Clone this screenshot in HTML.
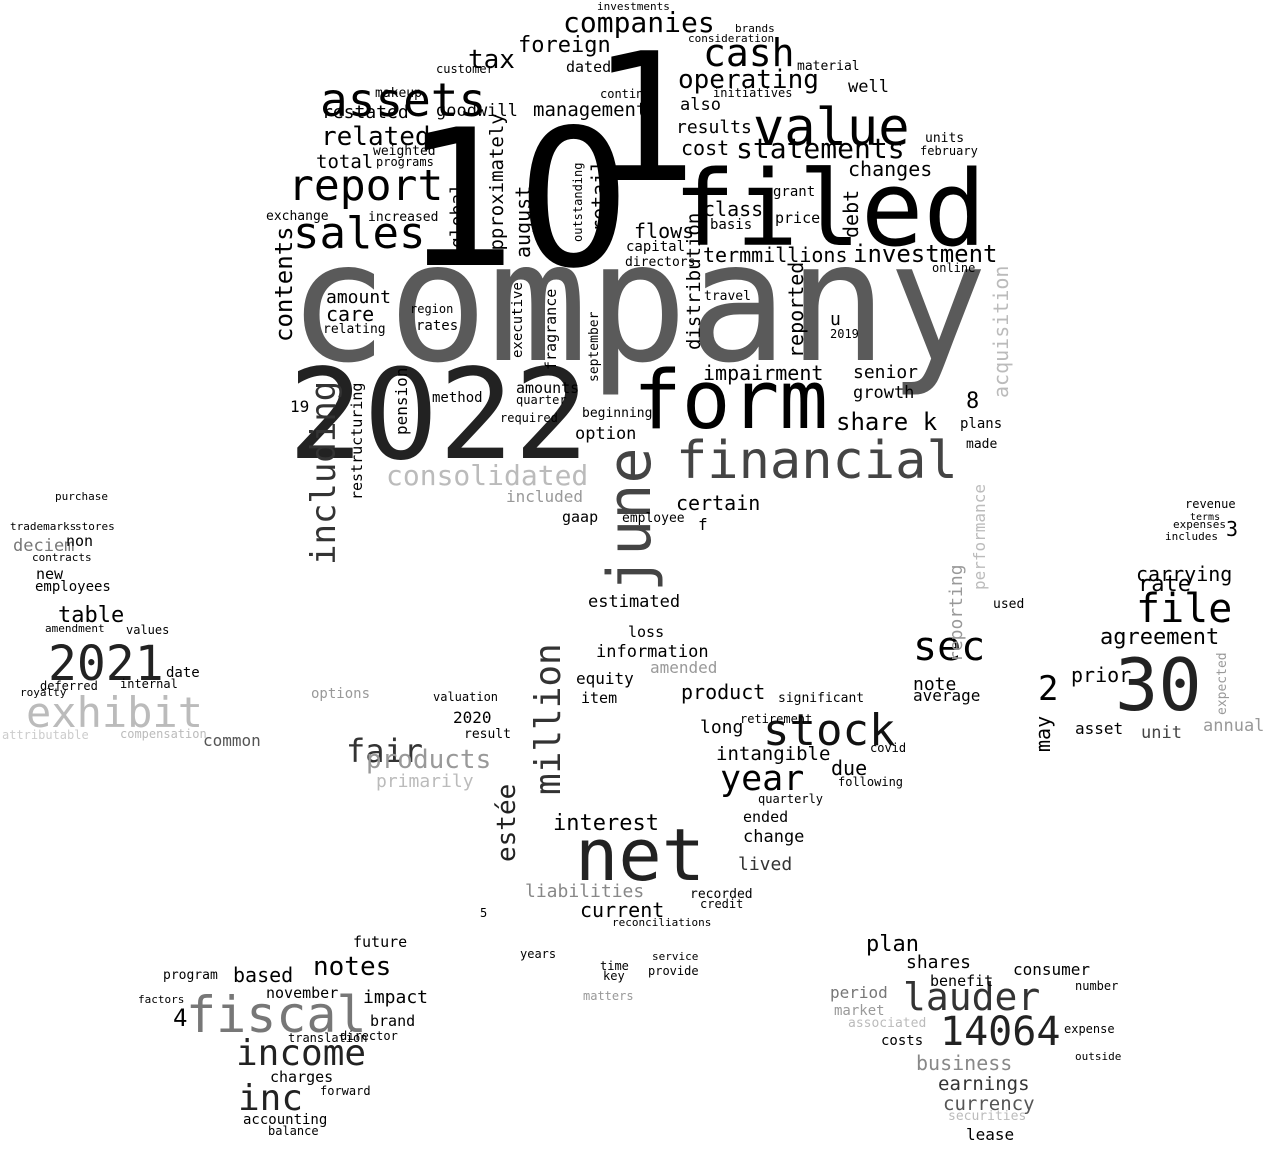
<!DOCTYPE html>
<html><head><meta charset="utf-8"><style>
html,body{margin:0;padding:0;background:#fff;}
svg{display:block;}
text{font-family:"DejaVu Sans Mono","Liberation Mono",monospace;}
</style></head><body>
<svg width="1280" height="1160" viewBox="0 0 1280 1160" xmlns="http://www.w3.org/2000/svg">
<rect width="1280" height="1160" fill="#fff"/>
<g fill="#000">
<text x="288" y="360" font-size="166" fill="#5a5a5a">company</text>
<text x="402" y="265" font-size="190">10</text>
<text x="590" y="180" font-size="178">1</text>
<text x="673" y="245" font-size="104">filed</text>
<text x="288" y="458" font-size="125" fill="#222">2022</text>
<ellipse cx="573" cy="193" rx="15" ry="19" fill="#fff"/>
<ellipse cx="400" cy="411" rx="10" ry="13" fill="#fff"/>
<text x="633" y="428" font-size="81">form</text>
<text x="676" y="478" font-size="52" fill="#444">financial</text>
<text x="575" y="880" font-size="72" fill="#222">net</text>
<text transform="translate(650,592) rotate(-90)" font-size="60" fill="#444">june</text>
<text x="1115" y="710" font-size="72" fill="#222">30</text>
<text x="903" y="1010" font-size="38" fill="#333">lauder</text>
<text x="940" y="1045" font-size="40" fill="#222">14064</text>
<text x="186" y="1032" font-size="50" fill="#777">fiscal</text>
<text x="236" y="1065" font-size="36" fill="#222">income</text>
<text x="238" y="1110" font-size="36" fill="#222">inc</text>
<text x="48" y="680" font-size="48" fill="#222">2021</text>
<text x="26" y="727" font-size="42" fill="#bbb">exhibit</text>
<text x="763" y="745" font-size="44" fill="#111">stock</text>
<text x="753" y="145" font-size="52">value</text>
<text x="320" y="116" font-size="46">assets</text>
<text x="288" y="200" font-size="43">report</text>
<text x="293" y="248" font-size="44">sales</text>
<text x="703" y="66" font-size="38">cash</text>
<text x="563" y="32" font-size="28">companies</text>
<text x="736" y="158" font-size="28">statements</text>
<text x="913" y="660" font-size="40">sec</text>
<text x="1136" y="622" font-size="40">file</text>
<text x="720" y="790" font-size="35">year</text>
<text x="346" y="762" font-size="32" fill="#333">fair</text>
<text x="366" y="768" font-size="26" fill="#999">products</text>
<text x="386" y="485" font-size="28" fill="#bbb">consolidated</text>
<text transform="translate(560,795) rotate(-90)" font-size="36" fill="#333">million</text>
<text transform="translate(515,862) rotate(-90)" font-size="26" fill="#222">estée</text>
<text transform="translate(335,565) rotate(-90)" font-size="34" fill="#333">including</text>
<text x="313" y="975" font-size="26">notes</text>
<text x="1038" y="700" font-size="34">2</text>
<text x="468" y="68" font-size="26">tax</text>
<text x="518" y="52" font-size="22">foreign</text>
<text x="678" y="88" font-size="26">operating</text>
<text x="436" y="116" font-size="17">goodwill</text>
<text x="533" y="116" font-size="19">management</text>
<text x="322" y="118" font-size="18">restated</text>
<text x="680" y="110" font-size="17">also</text>
<text x="848" y="92" font-size="17">well</text>
<text x="676" y="133" font-size="18">results</text>
<text x="681" y="155" font-size="20">cost</text>
<text x="321" y="145" font-size="26">related</text>
<text x="316" y="168" font-size="19">total</text>
<text x="373" y="155" font-size="13">weighted</text>
<text x="376" y="166" font-size="12">programs</text>
<text x="266" y="220" font-size="13">exchange</text>
<text x="368" y="221" font-size="13">increased</text>
<text x="848" y="176" font-size="20">changes</text>
<text x="703" y="216" font-size="20">class</text>
<text x="710" y="229" font-size="14">basis</text>
<text x="775" y="223" font-size="15">price</text>
<text x="773" y="196" font-size="14">grant</text>
<text x="634" y="238" font-size="20">flows</text>
<text x="626" y="251" font-size="14">capital</text>
<text x="625" y="266" font-size="13">directors</text>
<text x="703" y="262" font-size="20">termmillions</text>
<text x="853" y="262" font-size="24">investment</text>
<text transform="translate(858,238) rotate(-90)" font-size="20">debt</text>
<text transform="translate(463,248) rotate(-90)" font-size="18">global</text>
<text transform="translate(503,262) rotate(-90)" font-size="19">approximately</text>
<text transform="translate(530,258) rotate(-90)" font-size="20">august</text>
<text transform="translate(606,232) rotate(-90)" font-size="20">retail</text>
<text transform="translate(582,242) rotate(-90)" font-size="12">outstanding</text>
<text transform="translate(292,342) rotate(-90)" font-size="24">contents</text>
<text x="326" y="303" font-size="18">amount</text>
<text x="326" y="321" font-size="20">care</text>
<text x="323" y="333" font-size="13">relating</text>
<text x="416" y="330" font-size="14">rates</text>
<text x="410" y="313" font-size="12">region</text>
<text transform="translate(700,350) rotate(-90)" font-size="19">distribution</text>
<text transform="translate(803,358) rotate(-90)" font-size="20">reported</text>
<text x="704" y="300" font-size="13">travel</text>
<text x="830" y="325" font-size="18">u</text>
<text x="830" y="338" font-size="12">2019</text>
<text transform="translate(1008,398) rotate(-90)" font-size="20" fill="#bbb">acquisition</text>
<text x="703" y="380" font-size="20">impairment</text>
<text x="853" y="378" font-size="18">senior</text>
<text x="853" y="398" font-size="17">growth</text>
<text x="836" y="430" font-size="24">share k</text>
<text x="966" y="408" font-size="22">8</text>
<text x="575" y="439" font-size="17">option</text>
<text x="506" y="502" font-size="16" fill="#999">included</text>
<text x="676" y="510" font-size="20">certain</text>
<text x="588" y="607" font-size="17">estimated</text>
<text x="596" y="657" font-size="17">information</text>
<text x="628" y="637" font-size="15">loss</text>
<text x="576" y="684" font-size="16">equity</text>
<text x="581" y="703" font-size="15">item</text>
<text x="650" y="673" font-size="16" fill="#999">amended</text>
<text x="681" y="699" font-size="20">product</text>
<text x="376" y="787" font-size="18" fill="#bbb">primarily</text>
<text x="453" y="723" font-size="16">2020</text>
<text x="464" y="738" font-size="13">result</text>
<text x="433" y="701" font-size="12">valuation</text>
<text x="311" y="698" font-size="14" fill="#999">options</text>
<text x="203" y="746" font-size="16" fill="#555">common</text>
<text x="58" y="622" font-size="22">table</text>
<text x="35" y="591" font-size="14">employees</text>
<text x="36" y="579" font-size="15">new</text>
<text x="13" y="551" font-size="17" fill="#777">deciem</text>
<text x="66" y="546" font-size="15">non</text>
<text x="126" y="634" font-size="12">values</text>
<text x="166" y="677" font-size="14">date</text>
<text x="553" y="830" font-size="22">interest</text>
<text x="580" y="917" font-size="20">current</text>
<text x="525" y="897" font-size="18" fill="#888">liabilities</text>
<text x="743" y="822" font-size="15">ended</text>
<text x="743" y="842" font-size="17">change</text>
<text x="738" y="870" font-size="18" fill="#333">lived</text>
<text x="700" y="733" font-size="18">long</text>
<text x="831" y="775" font-size="20">due</text>
<text x="716" y="760" font-size="19">intangible</text>
<text x="1100" y="644" font-size="22">agreement</text>
<text x="1138" y="591" font-size="22">rate</text>
<text x="1136" y="581" font-size="20">carrying</text>
<text x="1226" y="536" font-size="20">3</text>
<text transform="translate(1050,752) rotate(-90)" font-size="20">may</text>
<text x="1075" y="734" font-size="16">asset</text>
<text x="1071" y="682" font-size="20">prior</text>
<text x="1141" y="738" font-size="17" fill="#444">unit</text>
<text x="1203" y="731" font-size="17" fill="#999">annual</text>
<text x="913" y="690" font-size="18">note</text>
<text x="913" y="701" font-size="16">average</text>
<text transform="translate(962,662) rotate(-90)" font-size="18" fill="#999">reporting</text>
<text transform="translate(985,590) rotate(-90)" font-size="16" fill="#bbb">performance</text>
<text x="866" y="951" font-size="22">plan</text>
<text x="906" y="968" font-size="18">shares</text>
<text x="916" y="1070" font-size="20" fill="#888">business</text>
<text x="938" y="1090" font-size="19" fill="#333">earnings</text>
<text x="943" y="1110" font-size="19" fill="#555">currency</text>
<text x="948" y="1120" font-size="13" fill="#bbb">securities</text>
<text x="966" y="1140" font-size="16">lease</text>
<text x="1013" y="975" font-size="16">consumer</text>
<text x="930" y="986" font-size="15">benefit</text>
<text x="830" y="998" font-size="16" fill="#777">period</text>
<text x="834" y="1015" font-size="14" fill="#999">market</text>
<text x="848" y="1027" font-size="13" fill="#bbb">associated</text>
<text x="881" y="1045" font-size="14">costs</text>
<text x="233" y="982" font-size="20">based</text>
<text x="353" y="947" font-size="15">future</text>
<text x="363" y="1003" font-size="18">impact</text>
<text x="370" y="1026" font-size="15">brand</text>
<text x="266" y="998" font-size="15">november</text>
<text x="270" y="1082" font-size="15">charges</text>
<text x="173" y="1026" font-size="24">4</text>
<text x="243" y="1124" font-size="14">accounting</text>
<text x="268" y="1135" font-size="12">balance</text>
<text x="163" y="979" font-size="13">program</text>
<text x="138" y="1003" font-size="11">factors</text>
<text x="290" y="412" font-size="16">19</text>
<text transform="translate(407,435) rotate(-90)" font-size="16">pension</text>
<text transform="translate(362,500) rotate(-90)" font-size="15">restructuring</text>
<text x="516" y="393" font-size="15">amounts</text>
<text x="432" y="402" font-size="14">method</text>
<text x="516" y="404" font-size="12">quarter</text>
<text x="500" y="422" font-size="12">required</text>
<text x="582" y="417" font-size="13">beginning</text>
<text transform="translate(556,370) rotate(-90)" font-size="15">fragrance</text>
<text transform="translate(522,358) rotate(-90)" font-size="14">executive</text>
<text transform="translate(598,382) rotate(-90)" font-size="13">september</text>
<text x="562" y="522" font-size="15">gaap</text>
<text x="622" y="522" font-size="13">employee</text>
<text x="698" y="530" font-size="16">f</text>
<text x="778" y="702" font-size="13">significant</text>
<text x="740" y="723" font-size="12">retirement</text>
<text x="870" y="752" font-size="12">covid</text>
<text x="838" y="786" font-size="12">following</text>
<text x="758" y="803" font-size="12">quarterly</text>
<text x="690" y="898" font-size="13">recorded</text>
<text x="700" y="908" font-size="12">credit</text>
<text x="966" y="448" font-size="13">made</text>
<text x="960" y="428" font-size="14">plans</text>
<text x="993" y="608" font-size="13">used</text>
<text transform="translate(1226,715) rotate(-90)" font-size="13" fill="#999">expected</text>
<text x="1185" y="508" font-size="12">revenue</text>
<text x="1190" y="520" font-size="10">terms</text>
<text x="1173" y="528" font-size="11">expenses</text>
<text x="1165" y="540" font-size="11">includes</text>
<text x="55" y="500" font-size="11">purchase</text>
<text x="10" y="530" font-size="11">trademarks</text>
<text x="75" y="530" font-size="11">stores</text>
<text x="32" y="561" font-size="11">contracts</text>
<text x="45" y="632" font-size="11">amendment</text>
<text x="40" y="690" font-size="12">deferred</text>
<text x="120" y="688" font-size="12">internal</text>
<text x="20" y="696" font-size="11">royalty</text>
<text x="2" y="739" font-size="12" fill="#ccc">attributable</text>
<text x="120" y="738" font-size="12" fill="#bbb">compensation</text>
<text x="597" y="10" font-size="11">investments</text>
<text x="735" y="32" font-size="11">brands</text>
<text x="688" y="42" font-size="11">consideration</text>
<text x="436" y="73" font-size="12">customer</text>
<text x="566" y="72" font-size="15">dated</text>
<text x="797" y="70" font-size="13">material</text>
<text x="375" y="97" font-size="13">makeup</text>
<text x="600" y="98" font-size="12">continue</text>
<text x="713" y="97" font-size="12">initiatives</text>
<text x="925" y="142" font-size="13">units</text>
<text x="920" y="155" font-size="12">february</text>
<text x="932" y="272" font-size="12">online</text>
<text x="520" y="958" font-size="12">years</text>
<text x="600" y="970" font-size="12">time</text>
<text x="603" y="980" font-size="12">key</text>
<text x="648" y="975" font-size="12">provide</text>
<text x="652" y="960" font-size="11">service</text>
<text x="480" y="917" font-size="12">5</text>
<text x="612" y="926" font-size="11">reconciliations</text>
<text x="583" y="1000" font-size="12" fill="#999">matters</text>
<text x="340" y="1040" font-size="12">director</text>
<text x="320" y="1095" font-size="12">forward</text>
<text x="288" y="1042" font-size="12">translation</text>
<text x="1075" y="990" font-size="12">number</text>
<text x="1064" y="1033" font-size="12">expense</text>
<text x="1075" y="1060" font-size="11">outside</text>
</g>
</svg>
</body></html>
